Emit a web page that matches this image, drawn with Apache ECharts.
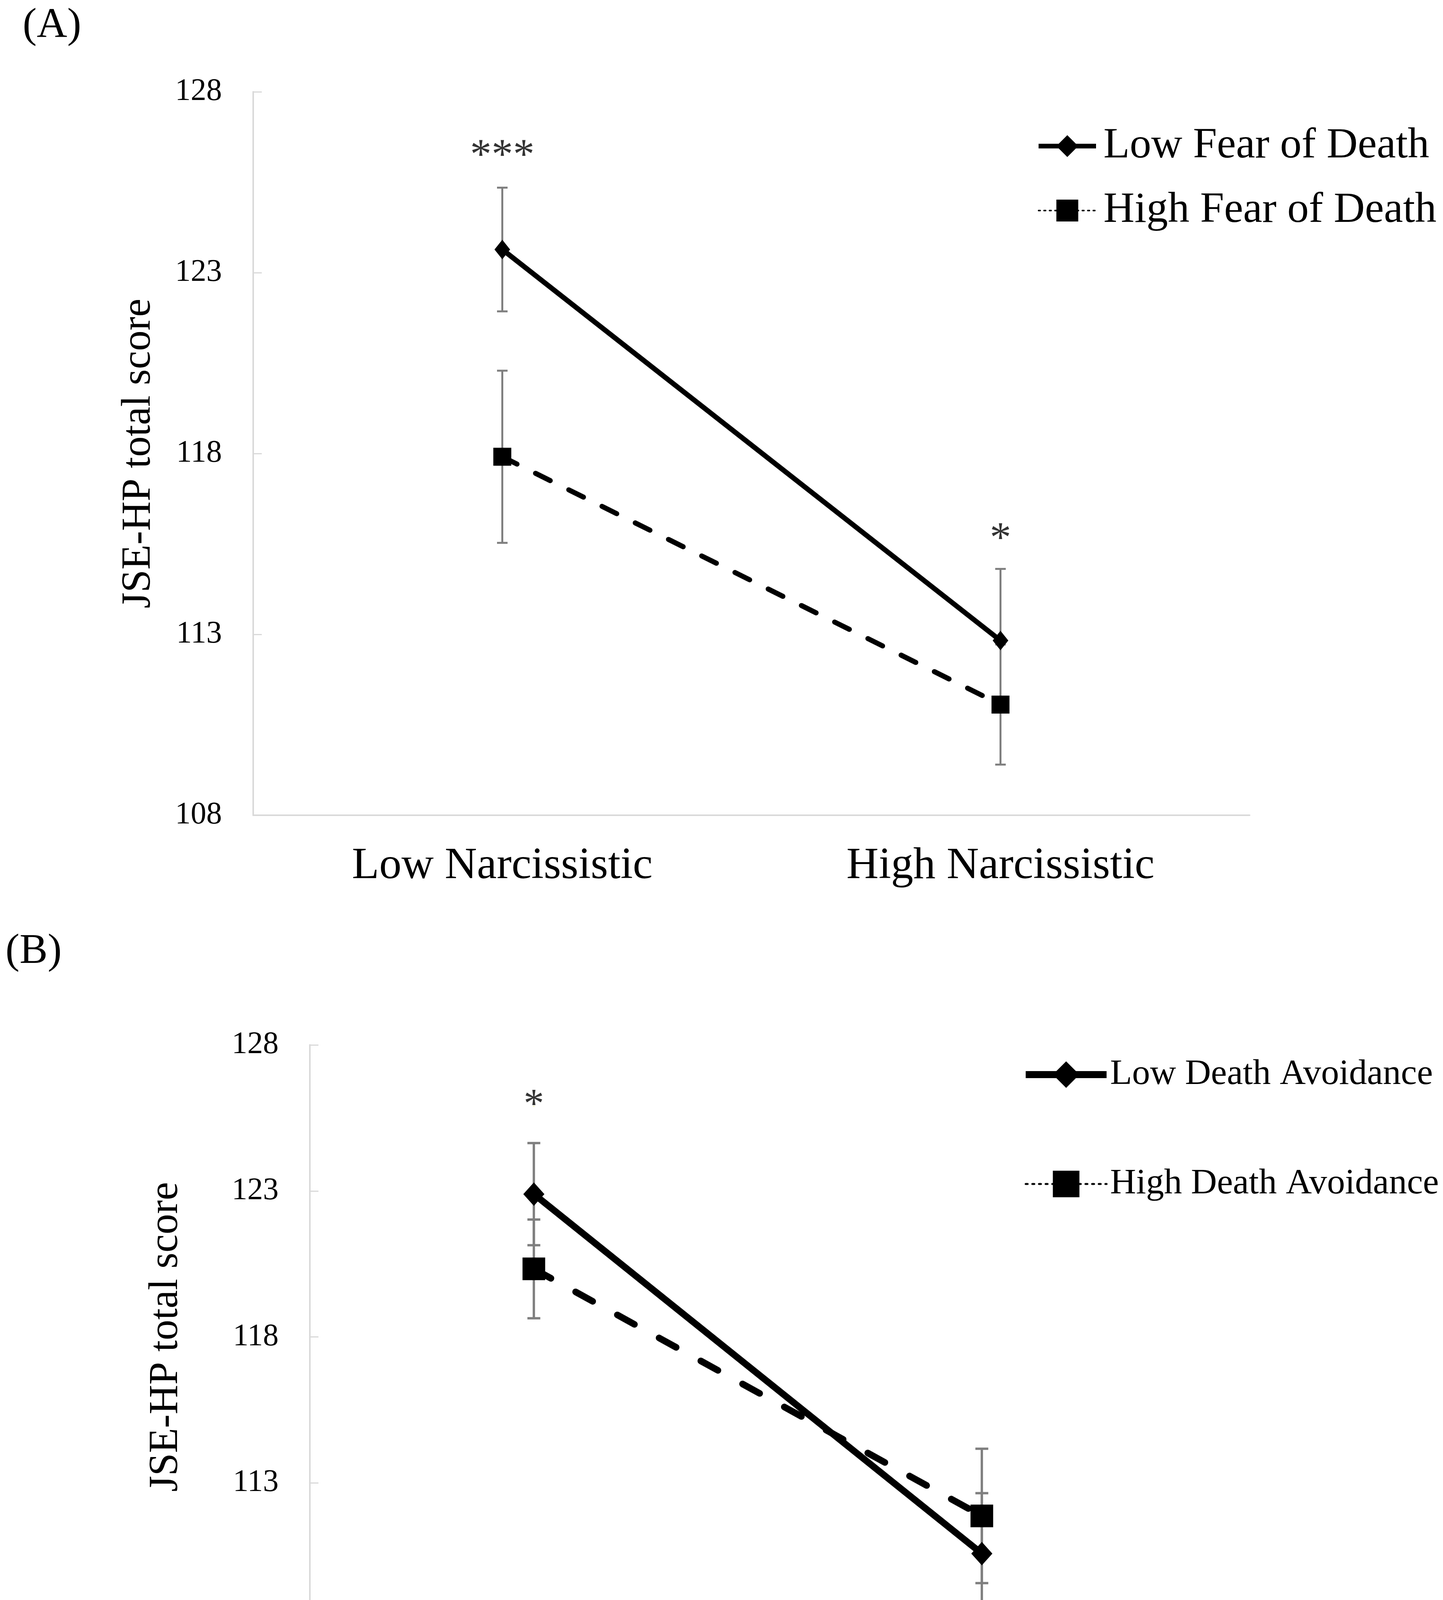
<!DOCTYPE html>
<html>
<head>
<meta charset="utf-8">
<script src="https://cdn.jsdelivr.net/npm/echarts@6/dist/echarts.min.js"></script>
<style>
html, body { margin: 0; padding: 0; background: #fff; }
#main { width: 3693px; height: 4338px; }
</style>
</head>
<body>
<div id="main"></div>
<script>
// 数据 (A)
var catsA = ['Low Narcissistic', 'High Narcissistic'];
var lowFearA = [123.64, 112.83];
var highFearA = [117.91, 111.06];
var lowFearErrA = [1.71, 1.98];
var highFearErrA = [2.38, 1.66];
var sigTextA = ['***', '*'];
var sigYA = [126.2, 115.6];

// 数据 (B)
var catsB = ['Low Dependent', 'High Dependent'];
var lowAvoidB = [122.89, 110.58];
var highAvoidB = [120.33, 111.87];
var lowAvoidErrB = [1.75, 2.07];
var highAvoidErrB = [1.69, 2.30];
var sigTextB = ['*'];
var sigYB = [125.9];

// y轴刻度
var yMin = 108;
var yMax = 128;
var yStep = 5;

var FONT = 'Liberation Serif';

function errData(vals, errs) {
    var out = [];
    for (var i = 0; i < vals.length; i++) {
        out.push([i, vals[i] - errs[i], vals[i] + errs[i]]);
    }
    return out;
}

function sigData(texts, ys) {
    var out = [];
    for (var i = 0; i < texts.length; i++) {
        out.push({ name: texts[i], value: [i, ys[i]] });
    }
    return out;
}

// 误差线
function errorBar(capW, lw) {
    return function (params, api) {
        var x = api.value(0);
        var top = api.coord([x, api.value(2)]);
        var bot = api.coord([x, api.value(1)]);
        var st = { stroke: '#7f7f7f', lineWidth: lw };
        return {
            type: 'group',
            children: [
                { type: 'line', shape: { x1: top[0], y1: top[1], x2: bot[0], y2: bot[1] }, style: st },
                { type: 'line', shape: { x1: top[0] - capW / 2, y1: top[1], x2: top[0] + capW / 2, y2: top[1] }, style: st },
                { type: 'line', shape: { x1: bot[0] - capW / 2, y1: bot[1], x2: bot[0] + capW / 2, y2: bot[1] }, style: st }
            ]
        };
    };
}

function xAxisOf(idx, cats, fontSize, margin) {
    return {
        type: 'category',
        gridIndex: idx,
        data: cats,
        axisLine: { lineStyle: { color: '#d9d9d9', width: 4 } },
        axisTick: { show: false },
        axisLabel: { color: '#000', fontFamily: FONT, fontSize: fontSize, margin: margin }
    };
}

function yAxisOf(idx, nameGap) {
    return {
        type: 'value',
        gridIndex: idx,
        min: yMin,
        max: yMax,
        interval: yStep,
        name: 'JSE-HP total score',
        nameLocation: 'middle',
        nameGap: nameGap,
        nameTextStyle: { color: '#000', fontFamily: FONT, fontSize: 105 },
        axisLine: { show: true, lineStyle: { color: '#d9d9d9', width: 4 } },
        axisTick: { show: true, inside: true, length: 22, lineStyle: { color: '#d9d9d9', width: 3 } },
        splitLine: { show: false },
        axisLabel: { color: '#000', fontFamily: FONT, fontSize: 80, margin: 80 }
    };
}

var myChart = echarts.init(document.getElementById('main'));

var option = {
    animation: false,
    backgroundColor: '#fff',
    graphic: [
        { type: 'text', x: 58, y: 67, style: { text: '(A)', fill: '#000', font: '108px "Liberation Serif"', verticalAlign: 'middle' } },
        { type: 'text', x: 14, y: 2437, style: { text: '(B)', fill: '#000', font: '108px "Liberation Serif"', verticalAlign: 'middle' } }
    ],
    grid: [
        { left: 648, right: 495, top: 235, height: 1852 },
        { left: 793, right: 607, top: 2675, height: 1495 }
    ],
    legend: [
        {
            orient: 'vertical',
            left: 2652,
            top: 319,
            padding: 0,
            itemWidth: 147,
            itemHeight: 70,
            itemGap: 55,
            textStyle: { color: '#000', fontFamily: FONT, fontSize: 110, padding: [0, 0, 0, 14] },
            data: [
                { name: 'Low Fear of Death', lineStyle: { type: 'solid', width: 12 } },
                { name: 'High Fear of Death', lineStyle: { type: [4, 10], width: 4 } }
            ]
        },
        {
            orient: 'vertical',
            left: 2616,
            top: 2705,
            padding: 0,
            itemWidth: 207,
            itemHeight: 85,
            itemGap: 188,
            textStyle: { color: '#000', fontFamily: FONT, fontSize: 92, padding: [0, 0, 0, 4] },
            data: [
                { name: 'Low Death Avoidance', lineStyle: { type: 'solid', width: 18 } },
                { name: 'High Death Avoidance', lineStyle: { type: [5, 12], width: 5 } }
            ]
        }
    ],
    xAxis: [
        xAxisOf(0, catsA, 114, 74),
        xAxisOf(1, catsB, 96, 70)
    ],
    yAxis: [
        yAxisOf(0, 240),
        yAxisOf(1, 315)
    ],
    series: [
        // (A)
        {
            type: 'custom', xAxisIndex: 0, yAxisIndex: 0, z: 1,
            renderItem: errorBar(27, 5), encode: { x: 0, y: [1, 2] },
            data: errData(lowFearA, lowFearErrA)
        },
        {
            type: 'custom', xAxisIndex: 0, yAxisIndex: 0, z: 1,
            renderItem: errorBar(27, 5), encode: { x: 0, y: [1, 2] },
            data: errData(highFearA, highFearErrA)
        },
        {
            name: 'Low Fear of Death', type: 'line', xAxisIndex: 0, yAxisIndex: 0, z: 3,
            symbol: 'diamond', symbolSize: [40, 50],
            lineStyle: { color: '#000', width: 13 },
            itemStyle: { color: '#000' },
            data: lowFearA
        },
        {
            name: 'High Fear of Death', type: 'line', xAxisIndex: 0, yAxisIndex: 0, z: 3,
            symbol: 'rect', symbolSize: 46,
            lineStyle: { color: '#000', width: 13, type: [42, 53], cap: 'round' },
            itemStyle: { color: '#000' },
            data: highFearA
        },
        {
            type: 'scatter', xAxisIndex: 0, yAxisIndex: 0, symbolSize: 0,
            label: { show: true, position: 'inside', formatter: '{b}', color: '#000', fontFamily: FONT, fontSize: 110 },
            data: sigData(sigTextA, sigYA)
        },
        // (B)
        {
            type: 'custom', xAxisIndex: 1, yAxisIndex: 1, z: 1,
            renderItem: errorBar(33, 6), encode: { x: 0, y: [1, 2] },
            data: errData(lowAvoidB, lowAvoidErrB)
        },
        {
            type: 'custom', xAxisIndex: 1, yAxisIndex: 1, z: 1,
            renderItem: errorBar(33, 6), encode: { x: 0, y: [1, 2] },
            data: errData(highAvoidB, highAvoidErrB)
        },
        {
            name: 'Low Death Avoidance', type: 'line', xAxisIndex: 1, yAxisIndex: 1, z: 3,
            symbol: 'diamond', symbolSize: [54, 60],
            lineStyle: { color: '#000', width: 17 },
            itemStyle: { color: '#000' },
            data: lowAvoidB
        },
        {
            name: 'High Death Avoidance', type: 'line', xAxisIndex: 1, yAxisIndex: 1, z: 3,
            symbol: 'rect', symbolSize: 58,
            lineStyle: { color: '#000', width: 17, type: [50, 72], cap: 'round' },
            itemStyle: { color: '#000' },
            data: highAvoidB
        },
        {
            type: 'scatter', xAxisIndex: 1, yAxisIndex: 1, symbolSize: 0,
            label: { show: true, position: 'inside', formatter: '{b}', color: '#000', fontFamily: FONT, fontSize: 105 },
            data: sigData(sigTextB, sigYB)
        }
    ]
};

myChart.setOption(option);
</script>
</body>
</html>
